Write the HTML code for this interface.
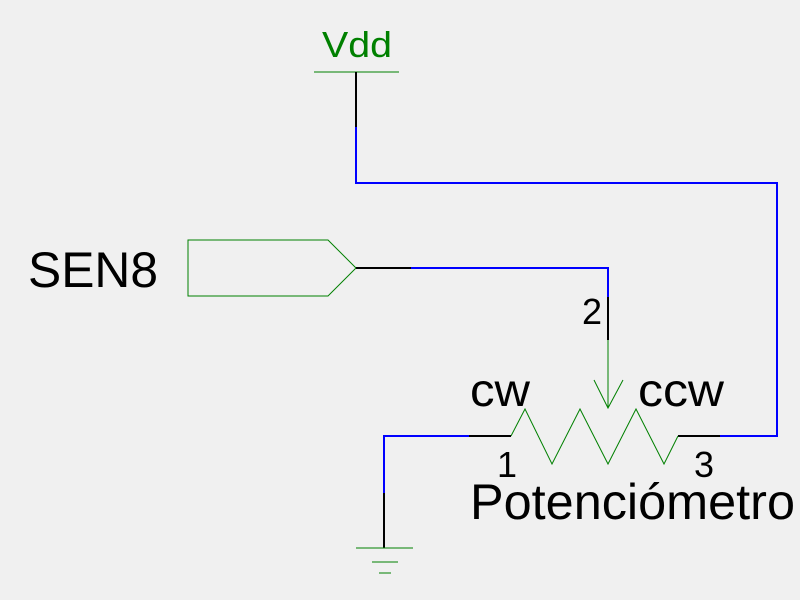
<!DOCTYPE html>
<html><head><style>body{margin:0;background:#f0f0f0}svg{display:block}</style></head><body>
<svg width="800" height="600" xmlns="http://www.w3.org/2000/svg" font-family="Liberation Sans, sans-serif">
<rect width="800" height="600" fill="#f0f0f0"/>
<g stroke-width="2" fill="none">
<line x1="314" y1="72" x2="399" y2="72" stroke="#008000" stroke-width="1"/>
<line x1="356" y1="72" x2="356" y2="127" stroke="#000"/>
<polyline points="356,127 356,183 777,183 777,436 720,436" stroke="#0000ff"/>
<line x1="720" y1="436" x2="678" y2="436" stroke="#000"/>
<polygon points="188,240 328,240 356,268 328,296 188,296" stroke="#008000" stroke-width="1"/>
<line x1="356" y1="268" x2="411" y2="268" stroke="#000"/>
<polyline points="411,268 608,268 608,297" stroke="#0000ff"/>
<line x1="608" y1="297" x2="608" y2="340" stroke="#000"/>
<line x1="608" y1="340" x2="608" y2="408" stroke="#008000" stroke-width="1"/>
<polyline points="594,380 608,408 623,380" stroke="#008000" stroke-width="1"/>
<polyline points="511,436 525,409 552,464 580,409 608,464 636,409 664,464 678,436" stroke="#008000" stroke-width="1"/>
<line x1="469" y1="436" x2="511" y2="436" stroke="#000"/>
<polyline points="469,436 384,436 384,493" stroke="#0000ff"/>
<line x1="384" y1="493" x2="384" y2="548" stroke="#000"/>
<line x1="356" y1="548" x2="413" y2="548" stroke="#008000" stroke-width="1"/>
<line x1="372" y1="562" x2="398" y2="562" stroke="#008000" stroke-width="1"/>
<line x1="379" y1="573" x2="391" y2="573" stroke="#008000" stroke-width="1"/>
</g>
<text x="322" y="57" font-size="36" fill="#008000" textLength="70" lengthAdjust="spacingAndGlyphs">Vdd</text>
<text x="28" y="287" font-size="50" fill="#000" textLength="130" lengthAdjust="spacingAndGlyphs">SEN8</text>
<text x="582" y="324" font-size="36" fill="#000">2</text>
<text x="470" y="406" font-size="46" fill="#000" textLength="60" lengthAdjust="spacingAndGlyphs">cw</text>
<text x="638" y="406" font-size="46" fill="#000" textLength="86" lengthAdjust="spacingAndGlyphs">ccw</text>
<text x="497" y="477" font-size="36" fill="#000">1</text>
<text x="694" y="477" font-size="36" fill="#000">3</text>
<text x="470" y="519" font-size="50" fill="#000" textLength="325" lengthAdjust="spacingAndGlyphs">Potenciómetro</text>
</svg>
</body></html>
